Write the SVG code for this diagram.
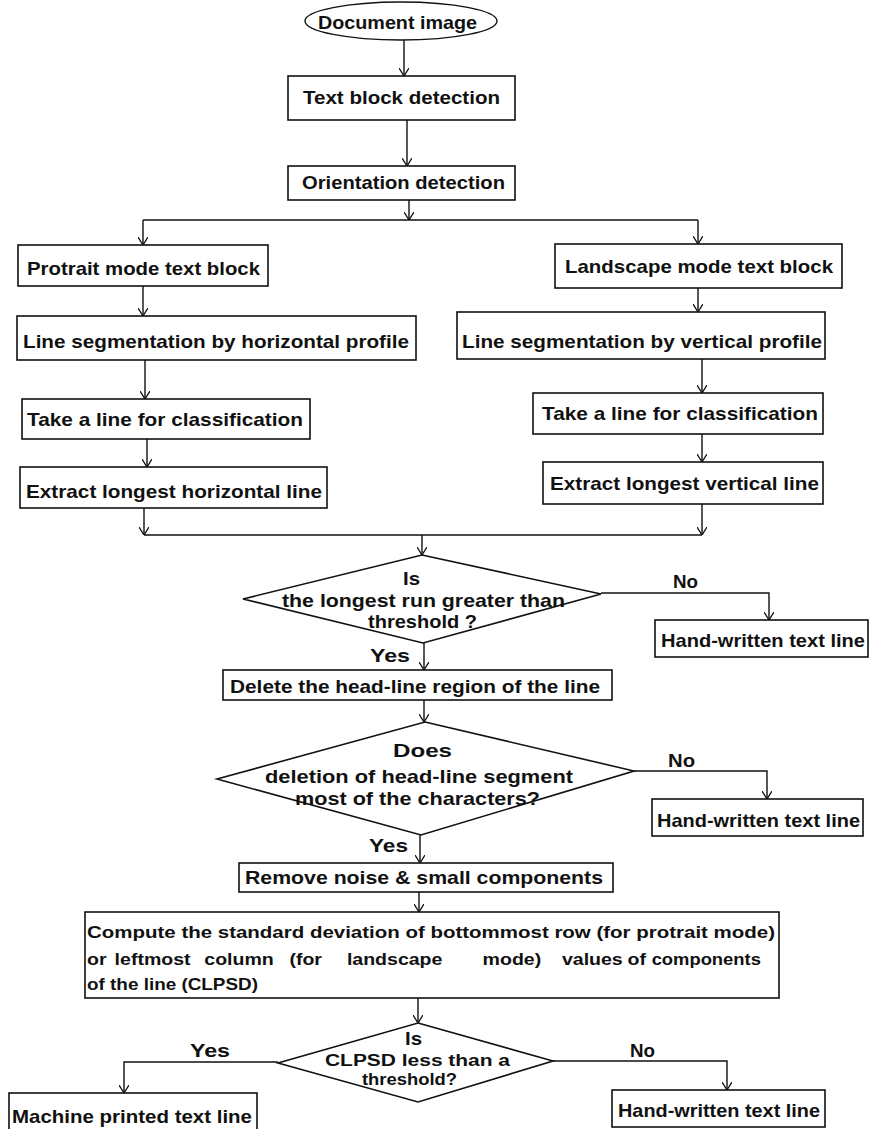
<svg xmlns="http://www.w3.org/2000/svg" width="870" height="1129" viewBox="0 0 870 1129">
<style>
.box{fill:#fff;stroke:#111;stroke-width:1.6}
.con{fill:none;stroke:#111;stroke-width:1.4}
.t{font-family:"Liberation Sans",Arial,sans-serif;font-weight:bold;font-size:19px;fill:#111}
.s{font-family:"Liberation Sans",Arial,sans-serif;font-weight:bold;font-size:17px;fill:#111}
.d{font-family:"Liberation Sans",Arial,sans-serif;font-weight:bold;font-size:16px;fill:#111}
</style>
<defs>
<marker id="arr" viewBox="0 0 8 10" refX="8" refY="5" markerWidth="8" markerHeight="10" markerUnits="userSpaceOnUse" orient="auto">
<path d="M0,0 L8,5 L0,10" fill="none" stroke="#111" stroke-width="1.3"/>
</marker>
</defs>
<rect width="870" height="1129" fill="#fff"/>
<g id="connectors">
<line class="con" x1="404" y1="40" x2="404" y2="76" marker-end="url(#arr)"/>
<line class="con" x1="407" y1="120" x2="407" y2="166" marker-end="url(#arr)"/>
<line class="con" x1="409" y1="200" x2="409" y2="220" marker-end="url(#arr)"/>
<line class="con" x1="143" y1="220" x2="698" y2="220"/>
<line class="con" x1="143" y1="220" x2="143" y2="245" marker-end="url(#arr)"/>
<line class="con" x1="698" y1="220" x2="698" y2="244" marker-end="url(#arr)"/>
<line class="con" x1="143" y1="286" x2="143" y2="316" marker-end="url(#arr)"/>
<line class="con" x1="145" y1="360" x2="145" y2="399" marker-end="url(#arr)"/>
<line class="con" x1="147" y1="439" x2="147" y2="467" marker-end="url(#arr)"/>
<line class="con" x1="144" y1="508" x2="144" y2="535" marker-end="url(#arr)"/>
<line class="con" x1="698" y1="288" x2="698" y2="312" marker-end="url(#arr)"/>
<line class="con" x1="702" y1="359" x2="702" y2="393" marker-end="url(#arr)"/>
<line class="con" x1="702" y1="434" x2="702" y2="462" marker-end="url(#arr)"/>
<line class="con" x1="702" y1="504" x2="702" y2="535" marker-end="url(#arr)"/>
<line class="con" x1="144" y1="535" x2="702" y2="535"/>
<line class="con" x1="422" y1="535" x2="422" y2="555" marker-end="url(#arr)"/>
<polyline class="con" points="601,593 769,593 769,620" marker-end="url(#arr)"/>
<line class="con" x1="424" y1="643" x2="424" y2="670" marker-end="url(#arr)"/>
<line class="con" x1="424" y1="700" x2="424" y2="722" marker-end="url(#arr)"/>
<polyline class="con" points="634,771 767,771 767,799" marker-end="url(#arr)"/>
<line class="con" x1="420" y1="835" x2="420" y2="863" marker-end="url(#arr)"/>
<line class="con" x1="419" y1="892" x2="419" y2="912" marker-end="url(#arr)"/>
<line class="con" x1="418" y1="998" x2="418" y2="1023" marker-end="url(#arr)"/>
<polyline class="con" points="278,1062 124,1062 124,1093" marker-end="url(#arr)"/>
<polyline class="con" points="553,1061 727,1061 727,1090" marker-end="url(#arr)"/>
<text class="t" x="673" y="588" textLength="25" lengthAdjust="spacingAndGlyphs">No</text>
<text class="t" x="370" y="662" textLength="40" lengthAdjust="spacingAndGlyphs">Yes</text>
<text class="t" x="668" y="767" textLength="27" lengthAdjust="spacingAndGlyphs">No</text>
<text class="t" x="369" y="852" textLength="39" lengthAdjust="spacingAndGlyphs">Yes</text>
<text class="t" x="190" y="1057" textLength="40" lengthAdjust="spacingAndGlyphs">Yes</text>
<text class="t" x="630" y="1057" textLength="25" lengthAdjust="spacingAndGlyphs">No</text>
</g>
<g id="start">
<ellipse cx="401" cy="21" rx="96" ry="19" fill="#fff" stroke="#111" stroke-width="1.4"/>
<text class="t" x="318" y="29" textLength="159" lengthAdjust="spacingAndGlyphs">Document image</text>
</g>
<g id="text-block-detection">
<rect class="box" x="288" y="76" width="227" height="44"/>
<text class="t" x="303" y="104" textLength="197" lengthAdjust="spacingAndGlyphs">Text block detection</text>
</g>
<g id="orientation-detection">
<rect class="box" x="288" y="166" width="227" height="34"/>
<text class="t" x="302" y="189" textLength="203" lengthAdjust="spacingAndGlyphs">Orientation detection</text>
</g>
<g id="portrait-block">
<rect class="box" x="18" y="245" width="250" height="41"/>
<text class="t" x="27" y="275" textLength="233" lengthAdjust="spacingAndGlyphs">Protrait mode text block</text>
</g>
<g id="line-seg-horizontal">
<rect class="box" x="17" y="316" width="399" height="44"/>
<text class="t" x="23" y="348" textLength="386" lengthAdjust="spacingAndGlyphs">Line segmentation by horizontal profile</text>
</g>
<g id="take-line-left">
<rect class="box" x="22" y="399" width="288" height="40"/>
<text class="t" x="27" y="426" textLength="276" lengthAdjust="spacingAndGlyphs">Take a line for classification</text>
</g>
<g id="extract-horizontal">
<rect class="box" x="20" y="467" width="307" height="41"/>
<text class="t" x="26" y="498" textLength="296" lengthAdjust="spacingAndGlyphs">Extract longest horizontal line</text>
</g>
<g id="landscape-block">
<rect class="box" x="555" y="244" width="287" height="44"/>
<text class="t" x="565" y="273" textLength="268" lengthAdjust="spacingAndGlyphs">Landscape mode text block</text>
</g>
<g id="line-seg-vertical">
<rect class="box" x="457" y="312" width="368" height="47"/>
<text class="t" x="462" y="348" textLength="360" lengthAdjust="spacingAndGlyphs">Line segmentation by vertical profile</text>
</g>
<g id="take-line-right">
<rect class="box" x="533" y="393" width="290" height="41"/>
<text class="t" x="542" y="420" textLength="276" lengthAdjust="spacingAndGlyphs">Take a line for classification</text>
</g>
<g id="extract-vertical">
<rect class="box" x="543" y="462" width="280" height="42"/>
<text class="t" x="550" y="490" textLength="269" lengthAdjust="spacingAndGlyphs">Extract longest vertical line</text>
</g>
<g id="decision-longest-run">
<polygon class="box" points="422,555 601,594 423,643 243,599"/>
<text class="t" x="403" y="585" textLength="17" lengthAdjust="spacingAndGlyphs">Is</text>
<text class="t" x="282" y="607" textLength="283" lengthAdjust="spacingAndGlyphs">the longest run greater than</text>
<text class="t" x="368" y="628" textLength="109" lengthAdjust="spacingAndGlyphs">threshold ?</text>
</g>
<g id="hand-written-1">
<rect class="box" x="655" y="620" width="213" height="37"/>
<text class="t" x="661" y="647" textLength="204" lengthAdjust="spacingAndGlyphs">Hand-written text line</text>
</g>
<g id="delete-headline">
<rect class="box" x="223" y="670" width="389" height="30"/>
<text class="t" x="230" y="693" textLength="370" lengthAdjust="spacingAndGlyphs">Delete the head-line region of the line</text>
</g>
<g id="decision-deletion">
<polygon class="box" points="425,722 634,771 421,835 217,779"/>
<text class="t" x="393" y="757" textLength="59" lengthAdjust="spacingAndGlyphs">Does</text>
<text class="t" x="265" y="783" textLength="308" lengthAdjust="spacingAndGlyphs">deletion of head-line segment</text>
<text class="t" x="295" y="805" textLength="245" lengthAdjust="spacingAndGlyphs">most of the characters?</text>
</g>
<g id="hand-written-2">
<rect class="box" x="652" y="799" width="211" height="37"/>
<text class="t" x="657" y="827" textLength="203" lengthAdjust="spacingAndGlyphs">Hand-written text line</text>
</g>
<g id="remove-noise">
<rect class="box" x="239" y="863" width="374" height="29"/>
<text class="t" x="245" y="884" textLength="358" lengthAdjust="spacingAndGlyphs">Remove noise &amp; small components</text>
</g>
<g id="compute-clpsd">
<rect class="box" x="85" y="912" width="694" height="86"/>
<text class="s" x="87" y="938" textLength="688" lengthAdjust="spacingAndGlyphs">Compute the standard deviation of bottommost row (for protrait mode)</text>
<g transform="translate(87,965) scale(1.15,1)">
<text class="s" x="0" y="0">or</text>
<text class="s" x="24" y="0">leftmost</text>
<text class="s" x="102" y="0">column</text>
<text class="s" x="176" y="0">(for</text>
<text class="s" x="226" y="0">landscape</text>
<text class="s" x="344" y="0">mode)</text>
<text class="s" x="413" y="0">values</text>
<text class="s" x="470" y="0">of</text>
<text class="s" x="491" y="0" textLength="95" lengthAdjust="spacingAndGlyphs">components</text>
</g>
<text class="s" x="87" y="990" textLength="171" lengthAdjust="spacingAndGlyphs">of the line (CLPSD)</text>
</g>
<g id="decision-clpsd">
<polygon class="box" points="418,1023 553,1061 418,1102 278,1063"/>
<text class="t" x="405" y="1045" textLength="17" lengthAdjust="spacingAndGlyphs">Is</text>
<text class="d" x="325" y="1066" textLength="185" lengthAdjust="spacingAndGlyphs">CLPSD less than a</text>
<text class="d" x="362" y="1085" textLength="95" lengthAdjust="spacingAndGlyphs">threshold?</text>
</g>
<g id="machine-printed">
<rect class="box" x="9" y="1093" width="248" height="40"/>
<text class="t" x="12" y="1123" textLength="240" lengthAdjust="spacingAndGlyphs">Machine printed text line</text>
</g>
<g id="hand-written-3">
<rect class="box" x="612" y="1090" width="213" height="37"/>
<text class="t" x="618" y="1117" textLength="202" lengthAdjust="spacingAndGlyphs">Hand-written text line</text>
</g>
</svg>
